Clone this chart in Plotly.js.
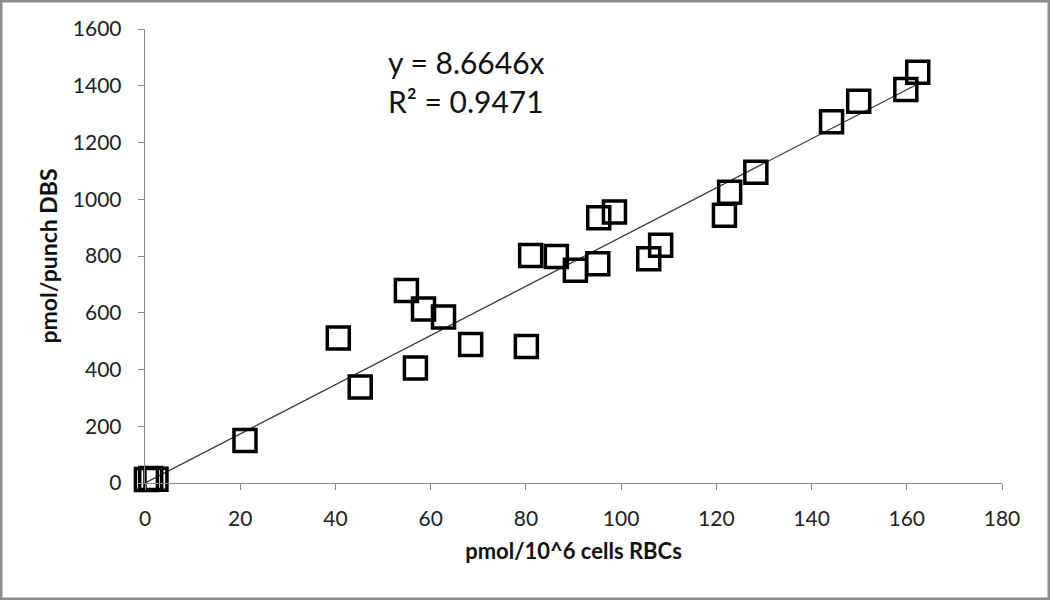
<!DOCTYPE html>
<html>
<head>
<meta charset="utf-8">
<script src="https://cdn.plot.ly/plotly-3.0.1.min.js"></script>
<style>
  body { margin: 0; background: #fff; }
  #chart { width: 1050px; height: 600px; }
</style>
</head>
<body>
<div id="chart"></div>
<script>
// pmol/10^6 cells RBCs
var rbcVals = [0.3, 1.2, 2.3, 21, 40.6, 45.2, 54.9, 56.8, 58.5, 62.7, 68.4, 80.1,
               81, 86.4, 90.4, 95.1, 95.3, 98.6, 105.8, 108.3,
               121.7, 122.8, 128.3, 144.2, 149.9, 159.8, 162.3];
// pmol/punch DBS
var dbsVals = [12, 16, 13, 150, 511, 338, 678, 405, 613, 585, 488, 481,
               802, 798, 750, 773, 935, 955, 790, 838,
               944, 1025, 1095, 1273, 1345, 1387, 1448];

var slope = 8.6646;
var rSquared = 0.9471;
var xTicks = [0, 20, 40, 60, 80, 100, 120, 140, 160, 180];
var yTicks = [0, 200, 400, 600, 800, 1000, 1200, 1400, 1600];

var xMax = Math.max.apply(null, rbcVals);

var points = {
  x: rbcVals,
  y: dbsVals,
  type: 'scatter',
  mode: 'markers',
  name: 'samples',
  cliponaxis: false,
  marker: {
    symbol: 'square-open',
    size: 22,
    color: '#000',
    line: { color: '#000', width: 3.5 }
  },
  hoverinfo: 'x+y'
};

var trend = {
  x: [0, xMax],
  y: [0, slope * xMax],
  type: 'scatter',
  mode: 'lines',
  name: 'Linear',
  line: { color: '#3a3a3a', width: 1.3 },
  hoverinfo: 'none'
};

var fam = 'Lato, "Open Sans", sans-serif';
var axisFont = { family: fam, size: 21, color: '#222' };

// plot area in pixels, used for the frame and the equation label
var m = { l: 145, r: 48, t: 29, b: 117 };
var pw = 1050 - m.l - m.r, ph = 600 - m.t - m.b;

var layout = {
  width: 1050,
  height: 600,
  margin: m,
  paper_bgcolor: '#fff',
  plot_bgcolor: '#fff',
  showlegend: false,
  xaxis: {
    range: [0, 180],
    tickvals: xTicks,
    ticks: 'outside',
    ticklen: 6,
    tickcolor: '#8a8a8a',
    ticklabelstandoff: 10,
    showline: true,
    linecolor: '#8a8a8a',
    linewidth: 1.3,
    showgrid: false,
    zeroline: false,
    tickfont: axisFont,
    title: {
      text: '<b>pmol/10^6 cells RBCs</b>',
      font: { family: fam, size: 22, color: '#111' },
      standoff: 15
    }
  },
  yaxis: {
    range: [0, 1600],
    tickvals: yTicks,
    ticks: 'outside',
    ticklen: 6,
    tickcolor: '#8a8a8a',
    ticklabelstandoff: 12,
    showline: true,
    linecolor: '#8a8a8a',
    linewidth: 1.3,
    showgrid: false,
    zeroline: false,
    tickfont: axisFont,
    title: {
      text: '<b>pmol/punch DBS</b>',
      font: { family: fam, size: 23, color: '#111' },
      standoff: 8
    }
  },
  annotations: [{
    xref: 'paper', yref: 'paper',
    x: (386 - m.l) / pw, y: (ph + m.t - 42) / ph,
    xanchor: 'left', yanchor: 'top',
    align: 'left',
    showarrow: false,
    text: 'y = ' + slope + 'x<br>R\u00b2 = ' + rSquared,
    font: { family: fam, size: 30, color: '#111' }
  }],
  shapes: [{
    type: 'rect',
    xref: 'paper', yref: 'paper',
    x0: -(m.l - 1) / pw, x1: 1 + (m.r - 1) / pw,
    y0: -(m.b - 1) / ph, y1: 1 + (m.t - 1) / ph,
    line: { color: '#8c8c8c', width: 3 }
  }]
};

Plotly.newPlot('chart', [trend, points], layout, { displayModeBar: false, staticPlot: true });
</script>
</body>
</html>
